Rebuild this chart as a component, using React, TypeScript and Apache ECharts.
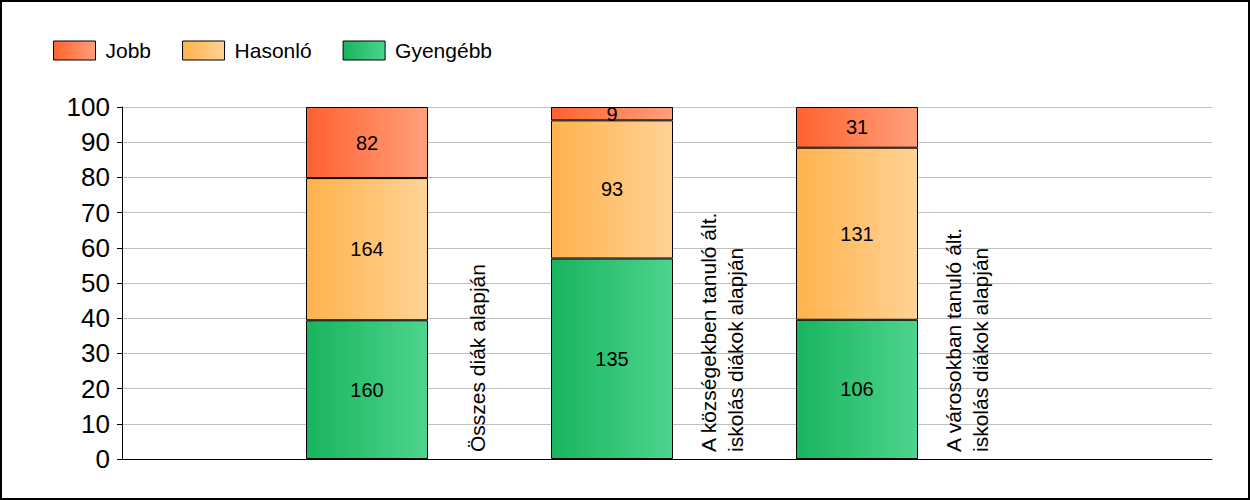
import React, { useEffect, useRef } from "react";
import * as echarts from "echarts";

// ---- data ----
const categories = [
  "Összes diák alapján",
  "A községekben tanuló ált.\niskolás diákok alapján",
  "A városokban tanuló ált.\niskolás diákok alapján",
];
// bar slots: an empty slot before, the three categories, an empty slot after
const slots = ["", "c1", "c2", "c3", ""];
const legendNames = ["Jobb", "Hasonló", "Gyengébb"];
const jobb = [82, 9, 31];
const hasonlo = [164, 93, 131];
const gyengebb = [160, 135, 106];
const yMin = 0;
const yMax = 100;
const yInterval = 10;

const FONT = "Arial, 'Liberation Sans', sans-serif";

const grad = (a: string, b: string) => ({
  type: "linear",
  x: 0,
  y: 0,
  x2: 1,
  y2: 0,
  colorStops: [
    { offset: 0, color: a },
    { offset: 1, color: b },
  ],
});

const colors: Record<string, any> = {
  Jobb: grad("#FF6230", "#FFA07C"),
  Hasonló: grad("#FFB24C", "#FFD396"),
  Gyengébb: grad("#19B45E", "#4DD48E"),
};

export default function App() {
  const ref = useRef<HTMLDivElement>(null);

  useEffect(() => {
    if (!ref.current) return;
    const chart = echarts.init(ref.current, undefined, { renderer: "svg" });

    const totals = categories.map((_, i) => jobb[i] + hasonlo[i] + gyengebb[i]);
    const mk = (vals: number[]) =>
      slots.map((s, k) => {
        if (k === 0 || k > categories.length) return null;
        const i = k - 1;
        return { value: (vals[i] / totals[i]) * 100, count: vals[i] };
      });

    const stackOrder: [string, number[]][] = [
      ["Gyengébb", gyengebb],
      ["Hasonló", hasonlo],
      ["Jobb", jobb],
    ];

    chart.setOption({
      animation: false,
      backgroundColor: "#fff",
      textStyle: { fontFamily: FONT },
      legend: {
        data: legendNames,
        left: 53,
        top: 40,
        padding: 0,
        icon: "rect",
        itemWidth: 42,
        itemHeight: 19,
        itemGap: 31,
        itemStyle: { borderColor: "#000", borderWidth: 1 },
        textStyle: { fontSize: 21, color: "#000", fontFamily: FONT, padding: [0, 0, 0, 5] },
      },
      grid: [
        { left: 122, top: 107, right: 38, bottom: 41, containLabel: false },
        { left: 122, top: 107, width: 980, bottom: 41, containLabel: false },
      ],
      xAxis: [
        {
          type: "value",
          gridIndex: 0,
          min: 0,
          max: 1,
          axisLine: { show: true, lineStyle: { color: "#000", width: 1 } },
          axisTick: { show: false },
          axisLabel: { show: false },
          splitLine: { show: false },
        },
        {
          type: "category",
          gridIndex: 1,
          data: slots,
          boundaryGap: false,
          axisLine: { show: false },
          axisTick: { show: false },
          axisLabel: { show: false },
          splitLine: { show: false },
        },
      ],
      yAxis: [
        {
          type: "value",
          gridIndex: 0,
          min: yMin,
          max: yMax,
          interval: yInterval,
          axisLine: { show: true, lineStyle: { color: "#000", width: 1 } },
          axisTick: { show: true, length: 5, lineStyle: { color: "#000" } },
          axisLabel: { fontSize: 26, color: "#000", margin: 12, fontFamily: FONT },
          splitLine: { show: true, lineStyle: { color: "#C0C0C0", width: 1 } },
        },
        {
          type: "value",
          gridIndex: 1,
          min: yMin,
          max: yMax,
          interval: yInterval,
          show: false,
          splitLine: { show: false },
        },
      ],
      series: stackOrder.map(([name, vals]) => ({
        name,
        type: "bar",
        stack: "total",
        xAxisIndex: 1,
        yAxisIndex: 1,
        barWidth: 122,
        data: mk(vals),
        itemStyle: { color: colors[name], borderColor: "#000", borderWidth: 1 },
        label: {
          show: true,
          position: "inside",
          fontSize: 20,
          color: "#000",
          fontFamily: FONT,
          formatter: (p: any) => String(p.data.count),
        },
      })),
    });

    const labelGraphics = categories.map((c, i) => {
      const pt = chart.convertToPixel({ xAxisIndex: 1, yAxisIndex: 1 }, [i + 1, 0]) as number[];
      return {
        type: "text",
        x: pt[0] + 110,
        y: pt[1] - 7,
        rotation: Math.PI / 2,
        style: {
          text: c,
          fontSize: 21,
          lineHeight: 27,
          fontFamily: FONT,
          fill: "#000",
          align: "left",
          verticalAlign: "middle",
        },
      };
    });

    chart.setOption({
      graphic: [
        {
          type: "rect",
          shape: { x: 1, y: 1, width: 1248, height: 498 },
          style: { fill: "none", stroke: "#000", lineWidth: 2 },
          silent: true,
        },
        ...labelGraphics,
      ],
    });

    return () => chart.dispose();
  }, []);

  return (
    <div
      ref={ref}
      style={{ position: "absolute", left: 0, top: 0, width: 1250, height: 500 }}
    />
  );
}
